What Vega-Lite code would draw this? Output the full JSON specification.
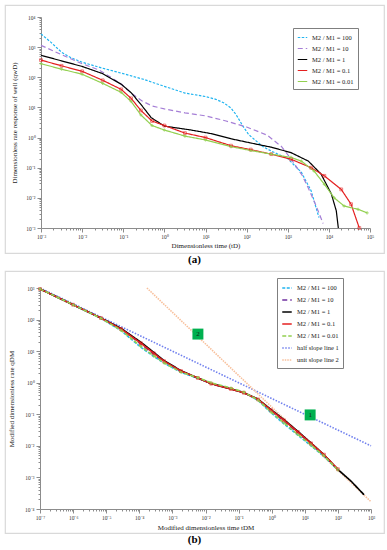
{
  "$schema": "https://vega.github.io/schema/vega-lite/v6.json",
  "padding": {"left": 4, "top": 4, "right": 4, "bottom": 0},
  "spacing": 4,
  "resolve": {"scale": {"color": "independent", "strokeDash": "independent", "strokeWidth": "independent", "x": "independent", "y": "independent"}, "legend": {"color": "independent", "strokeDash": "independent"}},
  "datasets": {
    "a": [
      {"s": "M2 / M1 = 100", "t": 0.001, "q": 2754}, {"s": "M2 / M1 = 100", "t": 0.00178, "q": 1413}, {"s": "M2 / M1 = 100", "t": 0.00316, "q": 676}, {"s": "M2 / M1 = 100", "t": 0.00537, "q": 447}, {"s": "M2 / M1 = 100", "t": 0.01, "q": 316}, {"s": "M2 / M1 = 100", "t": 0.0316, "q": 200}, {"s": "M2 / M1 = 100", "t": 0.1, "q": 132}, {"s": "M2 / M1 = 100", "t": 0.316, "q": 85}, {"s": "M2 / M1 = 100", "t": 1, "q": 50}, {"s": "M2 / M1 = 100", "t": 3.16, "q": 30}, {"s": "M2 / M1 = 100", "t": 10, "q": 23}, {"s": "M2 / M1 = 100", "t": 17.8, "q": 18.6}, {"s": "M2 / M1 = 100", "t": 28.2, "q": 14.1}, {"s": "M2 / M1 = 100", "t": 41.7, "q": 9.55}, {"s": "M2 / M1 = 100", "t": 56.2, "q": 5.6}, {"s": "M2 / M1 = 100", "t": 81.3, "q": 2.4}, {"s": "M2 / M1 = 100", "t": 112, "q": 1.26}, {"s": "M2 / M1 = 100", "t": 170, "q": 0.776}, {"s": "M2 / M1 = 100", "t": 251, "q": 0.5}, {"s": "M2 / M1 = 100", "t": 398, "q": 0.355}, {"s": "M2 / M1 = 100", "t": 1000, "q": 0.2}, {"s": "M2 / M1 = 100", "t": 2138, "q": 0.0708}, {"s": "M2 / M1 = 100", "t": 3715, "q": 0.017}, {"s": "M2 / M1 = 100", "t": 5754, "q": 0.0022},
      {"s": "M2 / M1 = 10", "t": 0.001, "q": 1148}, {"s": "M2 / M1 = 10", "t": 0.00316, "q": 562}, {"s": "M2 / M1 = 10", "t": 0.01, "q": 282}, {"s": "M2 / M1 = 10", "t": 0.0251, "q": 178}, {"s": "M2 / M1 = 10", "t": 0.0501, "q": 100}, {"s": "M2 / M1 = 10", "t": 0.0891, "q": 60}, {"s": "M2 / M1 = 10", "t": 0.158, "q": 29.5}, {"s": "M2 / M1 = 10", "t": 0.282, "q": 16.6}, {"s": "M2 / M1 = 10", "t": 0.501, "q": 11.2}, {"s": "M2 / M1 = 10", "t": 1, "q": 8.91}, {"s": "M2 / M1 = 10", "t": 3.16, "q": 6.61}, {"s": "M2 / M1 = 10", "t": 10, "q": 5.25}, {"s": "M2 / M1 = 10", "t": 31.6, "q": 3.55}, {"s": "M2 / M1 = 10", "t": 100, "q": 2.24}, {"s": "M2 / M1 = 10", "t": 316, "q": 1.2}, {"s": "M2 / M1 = 10", "t": 708, "q": 0.501}, {"s": "M2 / M1 = 10", "t": 1259, "q": 0.178}, {"s": "M2 / M1 = 10", "t": 2239, "q": 0.0562}, {"s": "M2 / M1 = 10", "t": 3162, "q": 0.0214}, {"s": "M2 / M1 = 10", "t": 5012, "q": 0.00501}, {"s": "M2 / M1 = 10", "t": 7244, "q": 0.00141},
      {"s": "M2 / M1 = 1", "t": 0.001, "q": 537}, {"s": "M2 / M1 = 1", "t": 0.00316, "q": 350}, {"s": "M2 / M1 = 1", "t": 0.01, "q": 229}, {"s": "M2 / M1 = 1", "t": 0.0316, "q": 132}, {"s": "M2 / M1 = 1", "t": 0.0891, "q": 58.9}, {"s": "M2 / M1 = 1", "t": 0.155, "q": 30.9}, {"s": "M2 / M1 = 1", "t": 0.269, "q": 12.6}, {"s": "M2 / M1 = 1", "t": 0.479, "q": 4.57}, {"s": "M2 / M1 = 1", "t": 1, "q": 2.4}, {"s": "M2 / M1 = 1", "t": 4.47, "q": 1.78}, {"s": "M2 / M1 = 1", "t": 13.8, "q": 1.35}, {"s": "M2 / M1 = 1", "t": 41.7, "q": 0.912}, {"s": "M2 / M1 = 1", "t": 126, "q": 0.661}, {"s": "M2 / M1 = 1", "t": 398, "q": 0.479}, {"s": "M2 / M1 = 1", "t": 1202, "q": 0.316}, {"s": "M2 / M1 = 1", "t": 3162, "q": 0.166}, {"s": "M2 / M1 = 1", "t": 6457, "q": 0.0617}, {"s": "M2 / M1 = 1", "t": 11482, "q": 0.0135}, {"s": "M2 / M1 = 1", "t": 15136, "q": 0.00372}, {"s": "M2 / M1 = 1", "t": 16982, "q": 0.001},
      {"s": "M2 / M1 = 0.1", "t": 0.001, "q": 372}, {"s": "M2 / M1 = 0.1", "t": 0.00316, "q": 240}, {"s": "M2 / M1 = 0.1", "t": 0.01, "q": 158}, {"s": "M2 / M1 = 0.1", "t": 0.0316, "q": 79.4}, {"s": "M2 / M1 = 0.1", "t": 0.0891, "q": 39.8}, {"s": "M2 / M1 = 0.1", "t": 0.155, "q": 20}, {"s": "M2 / M1 = 0.1", "t": 0.269, "q": 7.94}, {"s": "M2 / M1 = 0.1", "t": 0.501, "q": 3.55}, {"s": "M2 / M1 = 0.1", "t": 1, "q": 2.51}, {"s": "M2 / M1 = 0.1", "t": 3.16, "q": 1.41}, {"s": "M2 / M1 = 0.1", "t": 10, "q": 1.0}, {"s": "M2 / M1 = 0.1", "t": 41.7, "q": 0.537}, {"s": "M2 / M1 = 0.1", "t": 126, "q": 0.398}, {"s": "M2 / M1 = 0.1", "t": 398, "q": 0.282}, {"s": "M2 / M1 = 0.1", "t": 1202, "q": 0.191}, {"s": "M2 / M1 = 0.1", "t": 3715, "q": 0.1}, {"s": "M2 / M1 = 0.1", "t": 7762, "q": 0.0537}, {"s": "M2 / M1 = 0.1", "t": 19953, "q": 0.0191}, {"s": "M2 / M1 = 0.1", "t": 34674, "q": 0.00617}, {"s": "M2 / M1 = 0.1", "t": 54954, "q": 0.001},
      {"s": "M2 / M1 = 0.01", "t": 0.001, "q": 282}, {"s": "M2 / M1 = 0.01", "t": 0.00316, "q": 186}, {"s": "M2 / M1 = 0.01", "t": 0.01, "q": 126}, {"s": "M2 / M1 = 0.01", "t": 0.0316, "q": 63.1}, {"s": "M2 / M1 = 0.01", "t": 0.0891, "q": 31.6}, {"s": "M2 / M1 = 0.01", "t": 0.155, "q": 15.8}, {"s": "M2 / M1 = 0.01", "t": 0.269, "q": 5.62}, {"s": "M2 / M1 = 0.01", "t": 0.501, "q": 2.51}, {"s": "M2 / M1 = 0.01", "t": 1, "q": 1.78}, {"s": "M2 / M1 = 0.01", "t": 3.16, "q": 1.12}, {"s": "M2 / M1 = 0.01", "t": 10, "q": 0.832}, {"s": "M2 / M1 = 0.01", "t": 41.7, "q": 0.501}, {"s": "M2 / M1 = 0.01", "t": 126, "q": 0.372}, {"s": "M2 / M1 = 0.01", "t": 398, "q": 0.282}, {"s": "M2 / M1 = 0.01", "t": 1202, "q": 0.219}, {"s": "M2 / M1 = 0.01", "t": 2138, "q": 0.166}, {"s": "M2 / M1 = 0.01", "t": 4365, "q": 0.0776}, {"s": "M2 / M1 = 0.01", "t": 7762, "q": 0.0282}, {"s": "M2 / M1 = 0.01", "t": 13490, "q": 0.01}, {"s": "M2 / M1 = 0.01", "t": 23442, "q": 0.00537}, {"s": "M2 / M1 = 0.01", "t": 51286, "q": 0.00417}, {"s": "M2 / M1 = 0.01", "t": 85114, "q": 0.00316}
    ],
    "b": [
      {"s": "half slope line 1", "t": 1e-7, "q": 1000}, {"s": "half slope line 1", "t": 1000, "q": 0.01},
      {"s": "unit slope line 2", "t": 0.00017, "q": 1000}, {"s": "unit slope line 2", "t": 1000, "q": 0.00017},
      {"s": "M2 / M1 = 10", "t": 1e-7, "q": 933}, {"s": "M2 / M1 = 10", "t": 1e-6, "q": 295}, {"s": "M2 / M1 = 10", "t": 6.92e-6, "q": 112}, {"s": "M2 / M1 = 10", "t": 2.82e-5, "q": 51}, {"s": "M2 / M1 = 10", "t": 1.12e-4, "q": 16.6}, {"s": "M2 / M1 = 10", "t": 2.75e-4, "q": 7.94}, {"s": "M2 / M1 = 10", "t": 5.62e-4, "q": 4.57}, {"s": "M2 / M1 = 10", "t": 1.82e-3, "q": 2.3}, {"s": "M2 / M1 = 10", "t": 5.89e-3, "q": 1.4}, {"s": "M2 / M1 = 10", "t": 0.0148, "q": 0.94}, {"s": "M2 / M1 = 10", "t": 0.0589, "q": 0.64}, {"s": "M2 / M1 = 10", "t": 0.145, "q": 0.485}, {"s": "M2 / M1 = 10", "t": 0.389, "q": 0.29}, {"s": "M2 / M1 = 10", "t": 0.955, "q": 0.128}, {"s": "M2 / M1 = 10", "t": 2.34, "q": 0.06}, {"s": "M2 / M1 = 10", "t": 6.17, "q": 0.026}, {"s": "M2 / M1 = 10", "t": 15.5, "q": 0.0115}, {"s": "M2 / M1 = 10", "t": 38, "q": 0.005}, {"s": "M2 / M1 = 10", "t": 100, "q": 0.00178},
      {"s": "M2 / M1 = 100", "t": 1e-7, "q": 933}, {"s": "M2 / M1 = 100", "t": 1e-6, "q": 295}, {"s": "M2 / M1 = 100", "t": 6.92e-6, "q": 110}, {"s": "M2 / M1 = 100", "t": 2.82e-5, "q": 44.7}, {"s": "M2 / M1 = 100", "t": 1.12e-4, "q": 13.2}, {"s": "M2 / M1 = 100", "t": 2.75e-4, "q": 6.76}, {"s": "M2 / M1 = 100", "t": 5.62e-4, "q": 4.17}, {"s": "M2 / M1 = 100", "t": 1.82e-3, "q": 2.14}, {"s": "M2 / M1 = 100", "t": 5.89e-3, "q": 1.38}, {"s": "M2 / M1 = 100", "t": 0.0148, "q": 0.955}, {"s": "M2 / M1 = 100", "t": 0.0589, "q": 0.646}, {"s": "M2 / M1 = 100", "t": 0.145, "q": 0.49}, {"s": "M2 / M1 = 100", "t": 0.389, "q": 0.275}, {"s": "M2 / M1 = 100", "t": 0.955, "q": 0.112}, {"s": "M2 / M1 = 100", "t": 2.34, "q": 0.0501}, {"s": "M2 / M1 = 100", "t": 6.17, "q": 0.0219}, {"s": "M2 / M1 = 100", "t": 15.5, "q": 0.01}, {"s": "M2 / M1 = 100", "t": 38, "q": 0.00468}, {"s": "M2 / M1 = 100", "t": 100, "q": 0.00174},
      {"s": "M2 / M1 = 1", "t": 1e-7, "q": 933}, {"s": "M2 / M1 = 1", "t": 1e-6, "q": 295}, {"s": "M2 / M1 = 1", "t": 6.92e-6, "q": 112}, {"s": "M2 / M1 = 1", "t": 2.82e-5, "q": 52.5}, {"s": "M2 / M1 = 1", "t": 1.12e-4, "q": 19.1}, {"s": "M2 / M1 = 1", "t": 2.75e-4, "q": 9.12}, {"s": "M2 / M1 = 1", "t": 5.62e-4, "q": 5.01}, {"s": "M2 / M1 = 1", "t": 1.82e-3, "q": 2.4}, {"s": "M2 / M1 = 1", "t": 5.89e-3, "q": 1.41}, {"s": "M2 / M1 = 1", "t": 0.0148, "q": 0.933}, {"s": "M2 / M1 = 1", "t": 0.0589, "q": 0.631}, {"s": "M2 / M1 = 1", "t": 0.145, "q": 0.479}, {"s": "M2 / M1 = 1", "t": 0.389, "q": 0.302}, {"s": "M2 / M1 = 1", "t": 0.955, "q": 0.141}, {"s": "M2 / M1 = 1", "t": 2.34, "q": 0.0676}, {"s": "M2 / M1 = 1", "t": 6.17, "q": 0.0288}, {"s": "M2 / M1 = 1", "t": 15.5, "q": 0.0123}, {"s": "M2 / M1 = 1", "t": 38, "q": 0.00525}, {"s": "M2 / M1 = 1", "t": 100, "q": 0.00178}, {"s": "M2 / M1 = 1", "t": 251, "q": 0.000759}, {"s": "M2 / M1 = 1", "t": 617, "q": 0.000282},
      {"s": "M2 / M1 = 0.1", "t": 1e-7, "q": 933}, {"s": "M2 / M1 = 0.1", "t": 1e-6, "q": 295}, {"s": "M2 / M1 = 0.1", "t": 6.92e-6, "q": 112}, {"s": "M2 / M1 = 0.1", "t": 2.82e-5, "q": 50.1}, {"s": "M2 / M1 = 0.1", "t": 1.12e-4, "q": 17.8}, {"s": "M2 / M1 = 0.1", "t": 2.75e-4, "q": 8.51}, {"s": "M2 / M1 = 0.1", "t": 5.62e-4, "q": 4.79}, {"s": "M2 / M1 = 0.1", "t": 1.82e-3, "q": 2.34}, {"s": "M2 / M1 = 0.1", "t": 5.89e-3, "q": 1.41}, {"s": "M2 / M1 = 0.1", "t": 0.0148, "q": 0.933}, {"s": "M2 / M1 = 0.1", "t": 0.0589, "q": 0.631}, {"s": "M2 / M1 = 0.1", "t": 0.145, "q": 0.479}, {"s": "M2 / M1 = 0.1", "t": 0.389, "q": 0.295}, {"s": "M2 / M1 = 0.1", "t": 0.955, "q": 0.135}, {"s": "M2 / M1 = 0.1", "t": 2.34, "q": 0.0646}, {"s": "M2 / M1 = 0.1", "t": 6.17, "q": 0.0275}, {"s": "M2 / M1 = 0.1", "t": 15.5, "q": 0.012}, {"s": "M2 / M1 = 0.1", "t": 38, "q": 0.00525}, {"s": "M2 / M1 = 0.1", "t": 100, "q": 0.00182},
      {"s": "M2 / M1 = 0.01", "t": 1e-7, "q": 933}, {"s": "M2 / M1 = 0.01", "t": 1e-6, "q": 295}, {"s": "M2 / M1 = 0.01", "t": 6.92e-6, "q": 110}, {"s": "M2 / M1 = 0.01", "t": 2.82e-5, "q": 45.7}, {"s": "M2 / M1 = 0.01", "t": 1.12e-4, "q": 14.1}, {"s": "M2 / M1 = 0.01", "t": 2.75e-4, "q": 7.08}, {"s": "M2 / M1 = 0.01", "t": 5.62e-4, "q": 4.27}, {"s": "M2 / M1 = 0.01", "t": 1.82e-3, "q": 2.14}, {"s": "M2 / M1 = 0.01", "t": 5.89e-3, "q": 1.45}, {"s": "M2 / M1 = 0.01", "t": 0.0148, "q": 1.0}, {"s": "M2 / M1 = 0.01", "t": 0.0589, "q": 0.676}, {"s": "M2 / M1 = 0.01", "t": 0.145, "q": 0.501}, {"s": "M2 / M1 = 0.01", "t": 0.389, "q": 0.282}, {"s": "M2 / M1 = 0.01", "t": 0.955, "q": 0.117}, {"s": "M2 / M1 = 0.01", "t": 2.34, "q": 0.0537}, {"s": "M2 / M1 = 0.01", "t": 6.17, "q": 0.0229}, {"s": "M2 / M1 = 0.01", "t": 15.5, "q": 0.0105}, {"s": "M2 / M1 = 0.01", "t": 38, "q": 0.00479}, {"s": "M2 / M1 = 0.01", "t": 100, "q": 0.00174}
    ],
    "boxes": [
      {"label": "2", "t": 0.0059, "q": 34.7},
      {"label": "1", "t": 14.5, "q": 0.0955}
    ]
  },
  "vconcat": [
    {
      "width": 379,
      "height": 248,
      "title": {"text": "(a)", "orient": "bottom", "anchor": "middle", "offset": 1, "fontSize": 11, "fontWeight": "bold", "font": "Liberation Serif", "color": "#000"},
      "layer": [
        {
          "data": {"name": "a"},
          "mark": {"type": "line", "clip": true},
          "encoding": {
            "x": {"field": "t", "type": "quantitative",
              "scale": {"type": "log", "domain": [0.001, 100000], "range": [36, 365], "nice": false},
              "axis": {"title": "Dimensionless time (tD)", "offset": -25, "titlePadding": 2,
                "tickSize": {"condition": {"test": "abs(log(datum.value)/LN10 - round(log(datum.value)/LN10)) < 0.001", "value": 4}, "value": 2},
                "labelExpr": "abs(log(datum.value)/LN10 - round(log(datum.value)/LN10)) < 0.001 ? ['10⁻⁷','10⁻⁶','10⁻⁵','10⁻⁴','10⁻³','10⁻²','10⁻¹','10⁰','10¹','10²','10³','10⁴','10⁵'][round(log(datum.value)/LN10)+7] : ''"}},
            "y": {"field": "q", "type": "quantitative",
              "scale": {"type": "log", "domain": [0.001, 10000], "range": [223, 12], "nice": false},
              "axis": {"title": "Dimensionless rate response of well (qwD)", "offset": -36, "titlePadding": 8,
                "tickSize": {"condition": {"test": "abs(log(datum.value)/LN10 - round(log(datum.value)/LN10)) < 0.001", "value": 4}, "value": 2},
                "labelExpr": "abs(log(datum.value)/LN10 - round(log(datum.value)/LN10)) < 0.001 ? ['10⁻⁷','10⁻⁶','10⁻⁵','10⁻⁴','10⁻³','10⁻²','10⁻¹','10⁰','10¹','10²','10³','10⁴','10⁵'][round(log(datum.value)/LN10)+7] : ''"}},
            "color": {"field": "s", "type": "nominal",
              "scale": {"domain": ["M2 / M1 = 100", "M2 / M1 = 10", "M2 / M1 = 1", "M2 / M1 = 0.1", "M2 / M1 = 0.01"], "range": ["#20b4f0", "#a57ed6", "#000000", "#e42020", "#92d050"]},
              "legend": {"title": null, "orient": "none", "legendX": 288, "legendY": 23}},
            "strokeDash": {"field": "s", "type": "nominal",
              "scale": {"domain": ["M2 / M1 = 100", "M2 / M1 = 10", "M2 / M1 = 1", "M2 / M1 = 0.1", "M2 / M1 = 0.01"], "range": [[2.5, 1.5], [5, 3], [1, 0], [1, 0], [1, 0]]},
              "legend": {"title": null, "orient": "none", "legendX": 288, "legendY": 23}},
            "strokeWidth": {"field": "s", "type": "nominal",
              "scale": {"domain": ["M2 / M1 = 100", "M2 / M1 = 10", "M2 / M1 = 1", "M2 / M1 = 0.1", "M2 / M1 = 0.01"], "range": [1.2, 1.2, 1.4, 1.4, 1.4]},
              "legend": null}
          }
        },
        {
          "data": {"name": "a"},
          "transform": [{"filter": "datum.s == 'M2 / M1 = 0.1'"}],
          "mark": {"type": "point", "shape": "square", "size": 8, "filled": false, "color": "#e42020", "strokeWidth": 0.8, "clip": true},
          "encoding": {"x": {"field": "t", "type": "quantitative"}, "y": {"field": "q", "type": "quantitative"}}
        },
        {
          "data": {"name": "a"},
          "transform": [{"filter": "datum.s == 'M2 / M1 = 0.01'"}],
          "mark": {"type": "point", "shape": "cross", "size": 10, "filled": true, "color": "#92d050", "clip": true},
          "encoding": {"x": {"field": "t", "type": "quantitative"}, "y": {"field": "q", "type": "quantitative"}}
        }
      ]
    },
    {
      "width": 379,
      "height": 262,
      "title": {"text": "(b)", "orient": "bottom", "anchor": "middle", "offset": 1, "fontSize": 11, "fontWeight": "bold", "font": "Liberation Serif", "color": "#000"},
      "layer": [
        {
          "data": {"name": "b"},
          "mark": {"type": "line", "clip": true},
          "encoding": {
            "x": {"field": "t", "type": "quantitative",
              "scale": {"type": "log", "domain": [1e-7, 1000], "range": [35, 366], "nice": false},
              "axis": {"title": "Modified dimensionless time tDM", "offset": -24, "titlePadding": 3,
                "tickSize": {"condition": {"test": "abs(log(datum.value)/LN10 - round(log(datum.value)/LN10)) < 0.001", "value": 4}, "value": 2},
                "labelExpr": "abs(log(datum.value)/LN10 - round(log(datum.value)/LN10)) < 0.001 ? ['10⁻⁷','10⁻⁶','10⁻⁵','10⁻⁴','10⁻³','10⁻²','10⁻¹','10⁰','10¹','10²','10³','10⁴','10⁵'][round(log(datum.value)/LN10)+7] : ''"}},
            "y": {"field": "q", "type": "quantitative",
              "scale": {"type": "log", "domain": [0.0001, 1000], "range": [238, 17], "nice": false},
              "axis": {"title": "Modified dimensionless rate qDM", "offset": -35, "titlePadding": 10,
                "tickSize": {"condition": {"test": "abs(log(datum.value)/LN10 - round(log(datum.value)/LN10)) < 0.001", "value": 4}, "value": 2},
                "labelExpr": "abs(log(datum.value)/LN10 - round(log(datum.value)/LN10)) < 0.001 ? ['10⁻⁷','10⁻⁶','10⁻⁵','10⁻⁴','10⁻³','10⁻²','10⁻¹','10⁰','10¹','10²','10³','10⁴','10⁵'][round(log(datum.value)/LN10)+7] : ''"}},
            "color": {"field": "s", "type": "nominal",
              "scale": {"domain": ["M2 / M1 = 100", "M2 / M1 = 10", "M2 / M1 = 1", "M2 / M1 = 0.1", "M2 / M1 = 0.01", "half slope line 1", "unit slope line 2"], "range": ["#20b4f0", "#7030a0", "#000000", "#e42020", "#92d050", "#7080ee", "#f8c09c"]},
              "legend": {"title": null, "orient": "none", "legendX": 272, "legendY": 7}},
            "strokeDash": {"field": "s", "type": "nominal",
              "scale": {"domain": ["M2 / M1 = 100", "M2 / M1 = 10", "M2 / M1 = 1", "M2 / M1 = 0.1", "M2 / M1 = 0.01", "half slope line 1", "unit slope line 2"], "range": [[3, 1.5], [5, 3], [1, 0], [1, 0], [4, 2], [1.5, 1.5], [1.5, 1]]},
              "legend": {"title": null, "orient": "none", "legendX": 272, "legendY": 7}},
            "strokeWidth": {"field": "s", "type": "nominal",
              "scale": {"domain": ["M2 / M1 = 100", "M2 / M1 = 10", "M2 / M1 = 1", "M2 / M1 = 0.1", "M2 / M1 = 0.01", "half slope line 1", "unit slope line 2"], "range": [1.6, 1.6, 2, 1.8, 1.8, 0.7, 0.9]},
              "legend": null}
          }
        },
        {
          "data": {"name": "b"},
          "transform": [{"filter": "datum.s == 'M2 / M1 = 0.1'"}],
          "mark": {"type": "point", "shape": "square", "size": 8, "filled": false, "color": "#e42020", "strokeWidth": 0.8, "clip": true},
          "encoding": {"x": {"field": "t", "type": "quantitative"}, "y": {"field": "q", "type": "quantitative"}}
        },
        {
          "data": {"name": "b"},
          "transform": [{"filter": "datum.s == 'M2 / M1 = 0.01'"}],
          "mark": {"type": "point", "shape": "cross", "size": 10, "filled": true, "color": "#92d050", "clip": true},
          "encoding": {"x": {"field": "t", "type": "quantitative"}, "y": {"field": "q", "type": "quantitative"}}
        },
        {
          "data": {"name": "boxes"},
          "mark": {"type": "point", "shape": "square", "size": 120, "filled": true, "color": "#00b050", "opacity": 1},
          "encoding": {"x": {"field": "t", "type": "quantitative"}, "y": {"field": "q", "type": "quantitative"}}
        },
        {
          "data": {"name": "boxes"},
          "mark": {"type": "text", "font": "Liberation Serif", "fontSize": 7, "color": "#1a1a1a", "baseline": "middle", "align": "center"},
          "encoding": {"x": {"field": "t", "type": "quantitative"}, "y": {"field": "q", "type": "quantitative"}, "text": {"field": "label"}}
        }
      ]
    }
  ],
  "config": {
    "view": {"stroke": "#d9d9d9", "strokeWidth": 1.2},
    "font": "Liberation Serif",
    "axis": {"domainColor": "#8c8c8c", "tickColor": "#8c8c8c", "labelFont": "Liberation Serif", "labelFontSize": 5.5, "labelColor": "#333333", "titleFont": "Liberation Serif", "titleFontSize": 7, "titleFontWeight": "normal", "titleColor": "#1a1a1a", "grid": false, "tickCount": 100, "labelPadding": 2, "labelOverlap": false, "labelBound": false, "labelFlush": false},
    "legend": {"labelFont": "Liberation Serif", "labelFontSize": 6.5, "labelColor": "#1a1a1a", "symbolType": "stroke", "symbolStrokeWidth": 1.4, "symbolSize": 90, "strokeColor": "#7f7f7f", "fillColor": "#ffffff", "padding": 4, "rowPadding": 2, "labelLimit": 200, "symbolOffset": 0}
  }
}
